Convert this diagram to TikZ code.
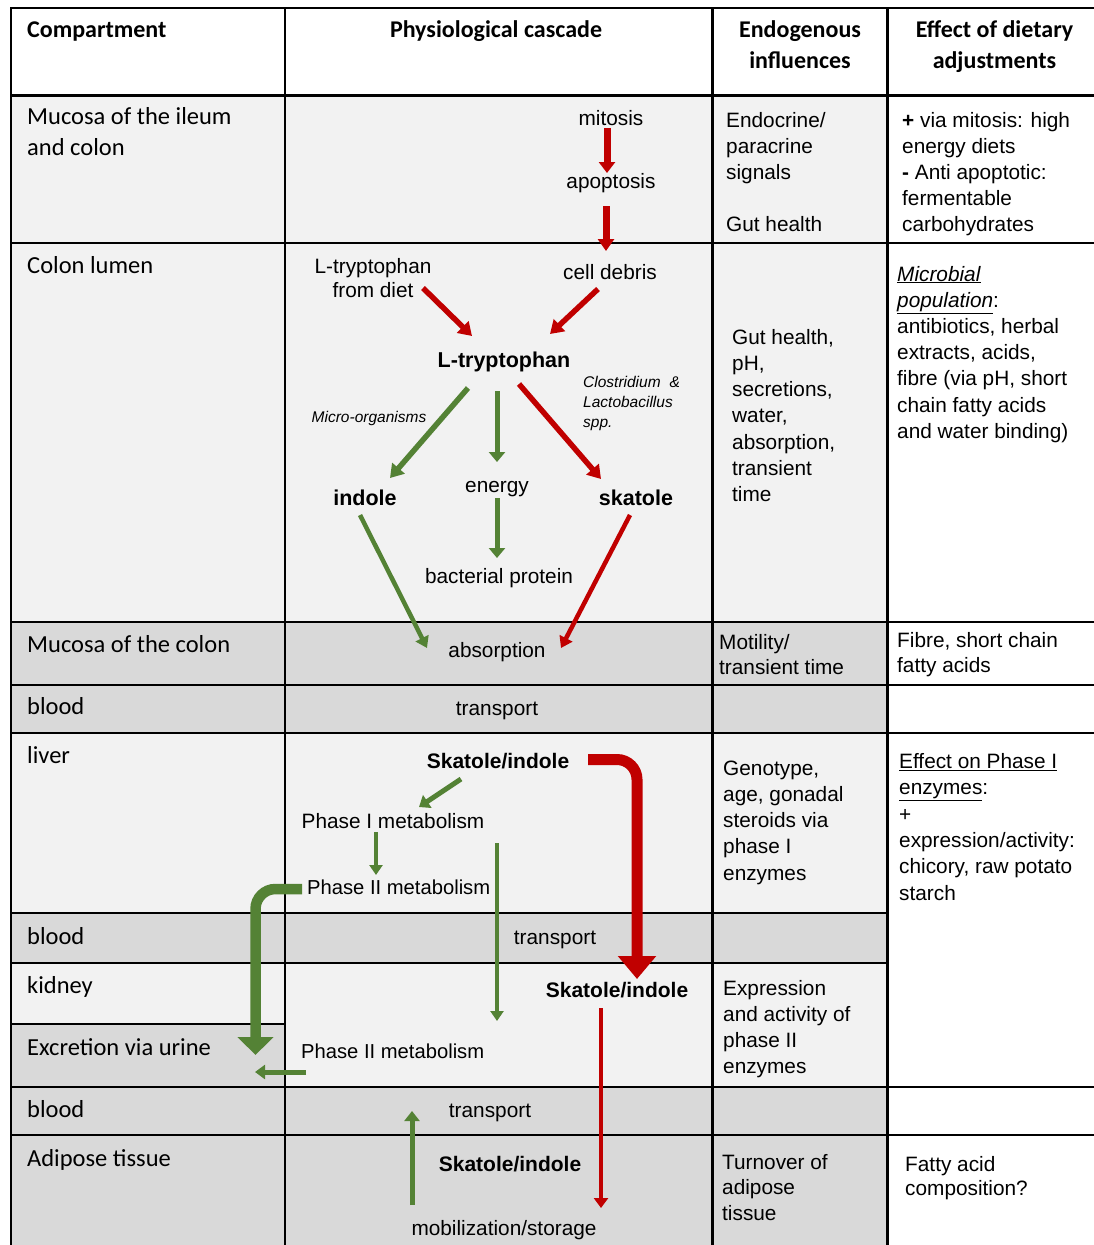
\documentclass[tikz,border=0pt]{standalone}
\usepackage{fontspec}
\setmainfont{Liberation Sans}
\newfontfamily\calfont{Carlito}
\usetikzlibrary{arrows.meta}
\definecolor{myred}{HTML}{C00000}
\definecolor{mygreen}{HTML}{548235}
\definecolor{lite}{HTML}{F2F2F2}
\definecolor{midg}{HTML}{D9D9D9}
\begin{document}
\begin{tikzpicture}[x=1pt,y=-1pt,
  grid/.style={line width=2.5pt, line cap=rect, black},
  hdr/.style={font=\calfont\bfseries\fontsize{24}{31}\selectfont, inner sep=0pt, anchor=base, align=center},
  cone/.style={font=\calfont\fontsize{24.5}{31}\selectfont, inner sep=0pt, anchor=base west, align=left},
  txt/.style={font=\fontsize{20.8}{26}\selectfont, inner sep=0pt, anchor=base, align=center},
  stxt/.style={font=\fontsize{20.2}{26}\selectfont, inner sep=0pt, anchor=base west},
  btxt/.style={font=\bfseries\fontsize{21.5}{26}\selectfont, inner sep=0pt, anchor=base},
  itxt/.style={font=\itshape\fontsize{15.5}{20}\selectfont, inner sep=0pt, anchor=base, align=left},
  ltxt/.style={font=\fontsize{20.8}{#1}\selectfont, inner sep=0pt, anchor=base west, align=left},
  ar/.style n args={3}{line width=#1, -{Triangle[width=#2,length=#3]}},
  red/.style={draw=myred},
  grn/.style={draw=mygreen}]
\useasboundingbox (0,0) rectangle (1094,1245);
\fill[white] (0,0) rectangle (1094,1245);
% cell fills
\fill[lite] (11,95.5) rectangle (887.5,622);
\fill[midg] (11,622) rectangle (887.5,733);
\fill[lite] (11,733) rectangle (887.5,913);
\fill[midg] (11,913) rectangle (887.5,963);
\fill[lite] (11,963) rectangle (887.5,1087);
\fill[midg] (11,1024) rectangle (285,1087);
\fill[midg] (11,1087) rectangle (887.5,1245);
% grid lines
\foreach \yy in {8,95.5,243,622,685,733,1087,1135} \draw[grid] (11,\yy) -- (1094,\yy);
\foreach \yy in {913,963} \draw[grid] (11,\yy) -- (887.5,\yy);
\draw[grid] (11,1024) -- (285,1024);
\foreach \xx in {11,285,712.5,887.5} \draw[grid] (\xx,8) -- (\xx,1245);
% header (multi-line nodes: base = last line)
\node[hdr, anchor=base west] (h1) at (27,37) {Compartment};
\node[hdr] (h2) at (496,37) {Physiological cascade};
\node[hdr] (h3) at (800,68) {Endogenous\\influences};
\node[hdr] (h4) at (994.5,68) {Effect of dietary\\adjustments};
% column 1
\node[cone] (r1) at (27,155.5) {Mucosa of the ileum\\and colon};
\node[cone] (r2) at (27,273) {Colon lumen};
\node[cone] (r3) at (27,652) {Mucosa of the colon};
\node[cone] (r4) at (27,714) {blood};
\node[cone] (r5) at (27,763) {liver};
\node[cone] (r6) at (27,944) {blood};
\node[cone] (r7) at (27,993) {kidney};
\node[cone] (ex) at (27,1055) {Excretion via urine};
\node[cone] (r9) at (27,1117) {blood};
\node[cone] (r10) at (27,1166) {Adipose tissue};
% column 2
\node[txt] (mit) at (611,125) {mitosis};
\node[txt] (apo) at (611,188) {apoptosis};
\node[txt, font=\fontsize{20.8}{24}\selectfont] (ltd) at (373,297) {L-tryptophan\\from diet};
\node[txt] (deb) at (610,279) {cell debris};
\node[btxt] (ltp) at (504,367) {L-tryptophan};
\node[itxt] (mo) at (369,422) {Micro-organisms};
\node[itxt, anchor=base west] (clos) at (583,427) {Clostridium\hspace{9pt}\&\\Lactobacillus\\spp.};
\node[btxt] (ind) at (365,505) {indole};
\node[txt] (ene) at (497,492) {energy};
\node[btxt] (ska) at (636,505) {skatole};
\node[txt] (bp) at (499,583) {bacterial protein};
\node[txt] (abs) at (497,657) {absorption};
\node[txt] (tr1) at (497,715) {transport};
\node[btxt, font=\bfseries\fontsize{21}{26}\selectfont] (si1) at (498,768) {Skatole/indole};
\node[txt] (p1) at (393,828) {Phase I metabolism};
\node[stxt] (p2a) at (307,894) {Phase II metabolism};
\node[txt] (tr2) at (555,944) {transport};
\node[btxt, font=\bfseries\fontsize{21}{26}\selectfont] (si2) at (617,997) {Skatole/indole};
\node[stxt] (p2b) at (301,1058) {Phase II metabolism};
\node[txt] (tr3) at (490,1117) {transport};
\node[btxt, font=\bfseries\fontsize{21}{26}\selectfont] (si3) at (510,1171) {Skatole/indole};
\node[txt] (mob) at (504,1235) {mobilization/storage};
% column 3
\node[ltxt=26] (e1) at (726,231) {Endocrine/\\paracrine\\signals\\[26pt]Gut health};
\node[ltxt=26.3] (e2) at (732,501.8) {Gut health,\\pH,\\secretions,\\water,\\absorption,\\transient\\time};
\node[ltxt=25] (e3) at (719,674) {Motility/\\transient time};
\node[ltxt=26.3] (e4) at (723,880.2) {Genotype,\\age, gonadal\\steroids via\\phase I\\enzymes};
\node[ltxt=26.2] (e5) at (723,1073.6) {Expression\\and activity of\\phase II\\enzymes};
\node[ltxt=25.5] (e6) at (722,1220) {Turnover of\\adipose\\tissue};
% column 4
\node[ltxt=26] (d1) at (902,231) {\textbf{+} via mitosis: high\\energy\ diets\\\textbf{-} Anti\ apoptotic:\\fermentable\\carbohydrates};
\node[ltxt=26.2] (d2) at (897,438.2) {\underline{\textit{Microbial}}\\\underline{\textit{population}}:\\antibiotics,\ herbal\\extracts,\ acids,\\fibre (via pH, short\\chain\ fatty acids\\and\ water binding)};
\node[ltxt=25] (d3) at (897,672) {Fibre, short chain\\fatty\ acids};
\node[ltxt=26.3] (d4) at (899,900) {\underline{Effect\ on Phase\ I}\\\underline{enzymes}:\\+\\expression/activity:\\chicory, raw potato\\starch};
\node[ltxt=24.5] (d5) at (905,1195.5) {Fatty acid\\composition?};
% arrows
\draw[red, ar={7pt}{16pt}{11pt}] ([shift={(-4,3)}]mit.base) -- ([shift={(-4,-15)}]apo.base);
\draw[red, ar={7pt}{16pt}{12pt}] ([shift={(-5,18)}]apo.base) -- ([shift={(-4,-28)}]deb.base);
\draw[red, ar={5.5pt}{16pt}{13pt}] ([shift={(50,-9)}]ltd.base) -- ([shift={(-32,-31)}]ltp.base);
\draw[red, ar={5.5pt}{16pt}{13pt}] ([shift={(-12,10)}]deb.base) -- ([shift={(46,-33)}]ltp.base);
\draw[grn, ar={5.5pt}{16pt}{13pt}] ([shift={(-36,21)}]ltp.base) -- ([shift={(25,-27)}]ind.base);
\draw[grn, ar={5pt}{16pt}{10pt}] ([shift={(-7,24)}]ltp.base) -- ([shift={(0,-30)}]ene.base);
\draw[red, ar={5.5pt}{16pt}{13pt}] ([shift={(15,17)}]ltp.base) -- ([shift={(-35,-26)}]ska.base);
\draw[grn, ar={5pt}{16pt}{10pt}] ([shift={(0,6)}]ene.base) -- ([shift={(-2,-25)}]bp.base);
\draw[grn, ar={4.5pt}{14pt}{11pt}] ([shift={(-5,10)}]ind.base) -- ([shift={(-70,-9)}]abs.base);
\draw[red, ar={4.5pt}{14pt}{11pt}] ([shift={(-6,10)}]ska.base) -- ([shift={(64,-9)}]abs.base);
\draw[grn, ar={5pt}{15pt}{10pt}] ([shift={(-37,11)}]si1.base) -- ([shift={(26,-21)}]p1.base);
\draw[grn, ar={4pt}{13pt}{10pt}] ([shift={(-17,4)}]p1.base) -- ([shift={(69,-19)}]p2a.base west);
\draw[grn, ar={3.5pt}{13pt}{10pt}] ([shift={(190,-51)}]p2a.base west) -- ([shift={(196,-37)}]p2b.base west);
\draw[red, ar={11pt}{37pt}{23pt}, rounded corners=20pt] ([shift={(90,-8.5)}]si1.base) -| ([shift={(20,-18)}]si2.base);
\draw[grn, ar={10.5pt}{35pt}{18pt}, rounded corners=20pt] ([shift={(-5,-5)}]p2a.base west) -| ([shift={(228.5,0)}]ex.base west);
\draw[red, ar={3.5pt}{14pt}{10pt}] ([shift={(-16,11)}]si2.base) -- ([shift={(91,37)}]si3.base);
\draw[grn, ar={5pt}{14pt}{10pt}] ([shift={(5,14)}]p2b.base west) -- ([shift={(228,17)}]ex.base west);
\draw[grn, ar={5pt}{15pt}{10pt}] ([shift={(-92,-30)}]mob.base) -- ([shift={(-78,-6)}]tr3.base);
\end{tikzpicture}
\end{document}
